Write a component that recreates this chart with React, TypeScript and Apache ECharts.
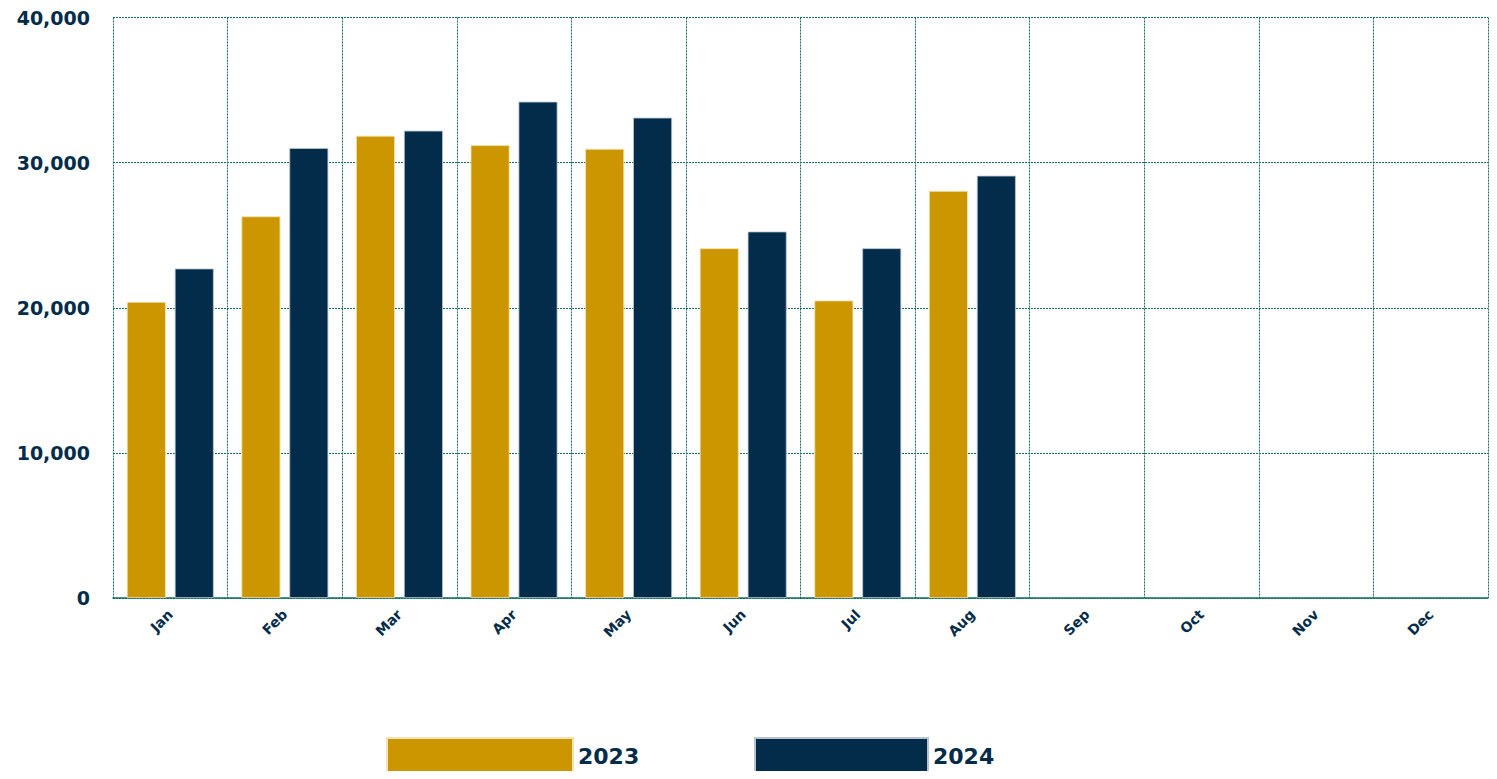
import React, { useEffect, useRef } from "react";
import * as echarts from "echarts";

const months = ["Jan", "Feb", "Mar", "Apr", "May", "Jun", "Jul", "Aug", "Sep", "Oct", "Nov", "Dec"];
const values2023 = [20400, 26300, 31850, 31200, 30950, 24100, 20500, 28050, null, null, null, null];
const values2024 = [22700, 31000, 32200, 34200, 33100, 25250, 24100, 29100, null, null, null, null];
const yTicks = [0, 10000, 20000, 30000, 40000];

const NAVY = "#022c4a";
const GOLD = "#cc9600";
const GRID = "#136e60";
const FONT = "DejaVu Sans";

export default function App() {
  const ref = useRef<HTMLDivElement>(null);
  useEffect(() => {
    if (!ref.current) return;
    const chart = echarts.init(ref.current, undefined, { renderer: "svg" });
    const legendText = { color: NAVY, fontSize: 22, fontWeight: "bold", fontFamily: FONT };
    chart.setOption({
      animation: false,
      grid: { left: 105, right: 1, top: 7, bottom: 173, containLabel: false },
      legend: [
        {
          left: 378,
          top: 729,
          padding: 0,
          itemWidth: 186,
          itemHeight: 37,
          itemGap: 6,
          icon: "rect",
          textStyle: legendText,
          data: ["2023"],
        },
        {
          left: 746,
          top: 729,
          padding: 0,
          itemWidth: 173,
          itemHeight: 37,
          icon: "rect",
          textStyle: legendText,
          data: ["2024"],
        },
      ],
      xAxis: {
        type: "category",
        data: months,
        axisLine: { show: true, lineStyle: { color: GRID, width: 1.5 } },
        axisTick: { show: false },
        axisLabel: {
          rotate: 45,
          interval: 0,
          margin: 14,
          color: NAVY,
          fontSize: 14,
          fontWeight: "bold",
          fontFamily: FONT,
        },
        splitLine: { show: true, interval: 0, lineStyle: { color: GRID, type: [2, 1], width: 1 } },
      },
      yAxis: {
        type: "value",
        min: yTicks[0],
        max: yTicks[yTicks.length - 1],
        interval: 10000,
        axisLine: { show: false },
        axisTick: { show: false },
        axisLabel: {
          margin: 23,
          color: NAVY,
          fontSize: 19,
          fontWeight: "bold",
          fontFamily: FONT,
          formatter: (v: number) => v.toLocaleString("en-US"),
        },
        splitLine: { show: true, lineStyle: { color: GRID, type: [2, 1], width: 1 } },
      },
      series: [
        {
          name: "2023",
          type: "bar",
          data: values2023,
          barWidth: "34%",
          barGap: "23%",
          itemStyle: { color: GOLD, borderColor: "#f3e2b5", borderWidth: 0.8 },
        },
        {
          name: "2024",
          type: "bar",
          data: values2024,
          barWidth: "34%",
          itemStyle: { color: NAVY, borderColor: "#b7c4cf", borderWidth: 0.8 },
        },
      ],
    });
    return () => chart.dispose();
  }, []);
  return <div ref={ref} style={{ width: 1481, height: 763 }} />;
}
